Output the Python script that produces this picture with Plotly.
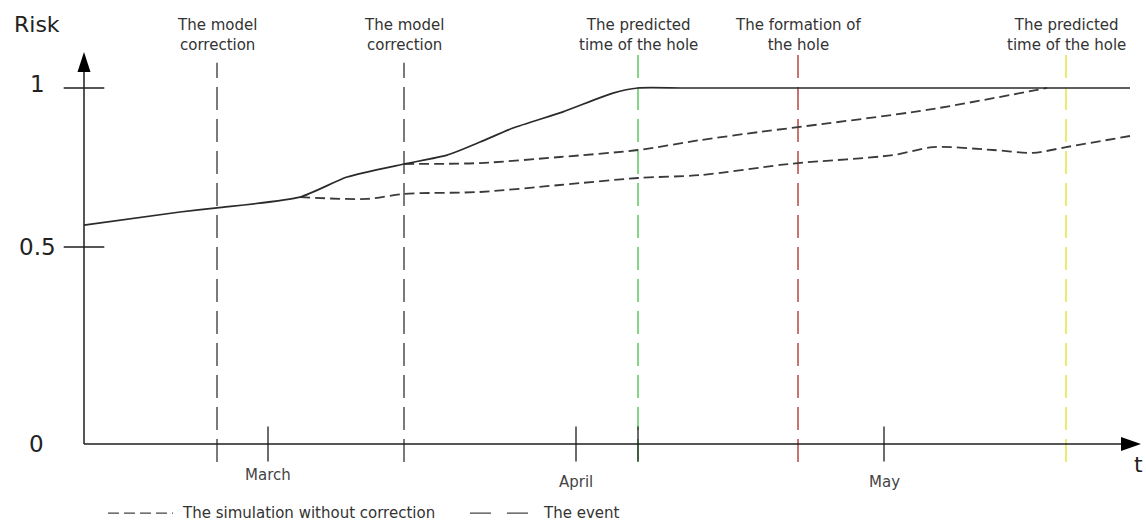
import plotly.graph_objects as go

# ---------------- data (x in days from the origin of the time axis) ----------------
solid_x = [0, 9.6, 13.3, 21.6, 26.3, 32.0, 36.3, 39.6, 42.9, 47.9, 52.9, 55.4, 60.0, 80.0, 104.6]
solid_y = [0.569, 0.610, 0.623, 0.657, 0.720, 0.761, 0.789, 0.830, 0.874, 0.925, 0.984, 1.0, 1.0, 1.0, 1.0]

sim1_x = [21.6, 28.3, 32.0, 39.6, 47.6, 55.4, 61.6, 69.6, 71.4, 80.9, 84.9, 90.9, 94.9, 98.2, 104.6]
sim1_y = [0.657, 0.651, 0.667, 0.673, 0.695, 0.717, 0.726, 0.758, 0.764, 0.789, 0.814, 0.805, 0.796, 0.814, 0.849]

sim2_x = [32.0, 39.6, 47.6, 55.4, 61.6, 67.6, 71.4, 84.3, 96.3]
sim2_y = [0.761, 0.764, 0.783, 0.805, 0.836, 0.862, 0.877, 0.931, 1.0]

event_x = [13.3, 32.0, 55.4, 71.4, 98.2]
event_labels = ["The model<br>correction", "The model<br>correction",
                "The predicted<br>time of the hole", "The formation of<br>the hole",
                "The predicted<br>time of the hole"]
event_colors = ["#5a5a5a", "#5a5a5a", "#66cc66", "#c0504d", "#e6e64a"]

month_x = [18.4, 49.2, 80.0]
month_labels = ["March", "April", "May"]
month_label_y = [0.090, 0.0766, 0.0766]

ytick_vals = [0.5, 1.0]
ytick_labels = ["0.5", "1"]

legend_labels = ["The simulation without correction", "The event"]

# ---------------- geometry of the schematic axes ----------------
X0, X_END = 0.0, 105.7          # time axis from origin to arrow tip
Y_BASE, Y_TOP = -0.1195, 1.113  # risk axis from baseline ("0") to arrow tip
XR = [-8.4, 106.2]
YR = [-0.3648, 1.2767]
PX_X = (XR[1] - XR[0]) / 1146.0
PX_Y = (YR[1] - YR[0]) / 522.0

FONT = "DejaVu Sans"
AX = "#1e1e1e"
fig = go.Figure()

# event lines
for i, (ex, col) in enumerate(zip(event_x, event_colors)):
    top = 1.079 if i < 2 else 1.104
    fig.add_trace(go.Scatter(x=[ex, ex], y=[-0.176, top], mode="lines",
                             line=dict(color=col, width=1.6, dash="23px,9px"),
                             hoverinfo="skip", showlegend=False))

# axes lines
fig.add_trace(go.Scatter(x=[X0, X0], y=[Y_BASE, Y_TOP - 10 * PX_Y], mode="lines",
                         line=dict(color=AX, width=1.5), hoverinfo="skip", showlegend=False))
fig.add_trace(go.Scatter(x=[X0, X_END - 10 * PX_X], y=[Y_BASE, Y_BASE], mode="lines",
                         line=dict(color=AX, width=1.5), hoverinfo="skip", showlegend=False))

# tick marks
fig.add_trace(go.Scatter(x=[X0] * len(ytick_vals), y=ytick_vals, mode="markers",
                         marker=dict(symbol="line-ew", size=29, line=dict(color=AX, width=1.3)),
                         hoverinfo="skip", showlegend=False))
tick_x = month_x + [event_x[2]]
fig.add_trace(go.Scatter(x=tick_x, y=[Y_BASE] * len(tick_x), mode="markers",
                         marker=dict(symbol="line-ns", size=25, line=dict(color=AX, width=1.3)),
                         hoverinfo="skip", showlegend=False))

# curves
fig.add_trace(go.Scatter(x=sim1_x, y=sim1_y, mode="lines",
                         line=dict(color="#3a3a3a", width=1.8, dash="10px,5px", shape="spline", smoothing=0.8),
                         name=legend_labels[0], showlegend=False))
fig.add_trace(go.Scatter(x=sim2_x, y=sim2_y, mode="lines",
                         line=dict(color="#3a3a3a", width=1.8, dash="10px,5px", shape="spline", smoothing=0.8),
                         name=legend_labels[0], showlegend=False))
fig.add_trace(go.Scatter(x=solid_x, y=solid_y, mode="lines",
                         line=dict(color="#2a2a2a", width=1.7, shape="spline", smoothing=0.6),
                         name="Risk", showlegend=False))

# legend samples
LEG_Y = -0.337
fig.add_trace(go.Scatter(x=[2.4, 8.9], y=[LEG_Y, LEG_Y], mode="lines",
                         line=dict(color="#444", width=1.4, dash="11px,5px"),
                         hoverinfo="skip", showlegend=False))
fig.add_trace(go.Scatter(x=[38.6, 44.5], y=[LEG_Y, LEG_Y], mode="lines",
                         line=dict(color="#444", width=1.4, dash="21px,16px"),
                         hoverinfo="skip", showlegend=False))

shapes = [
    # arrow heads
    dict(type="path", xref="x", yref="y", fillcolor="black", line=dict(width=0),
         path=f"M {X0} {Y_TOP} L {X0 - 6.5 * PX_X} {Y_TOP - 20 * PX_Y} L {X0 + 6.5 * PX_X} {Y_TOP - 20 * PX_Y} Z"),
    dict(type="path", xref="x", yref="y", fillcolor="black", line=dict(width=0),
         path=f"M {X_END} {Y_BASE} L {X_END - 20 * PX_X} {Y_BASE + 7 * PX_Y} L {X_END - 20 * PX_X} {Y_BASE - 7 * PX_Y} Z"),
]

ann = []
for ex, lab in zip(event_x, event_labels):
    ann.append(dict(x=ex, y=1.167, xref="x", yref="y", text=lab, showarrow=False,
                    yanchor="middle", font=dict(family=FONT, size=15, color="#333"), align="center"))
for mx, ml, my in zip(month_x, month_labels, month_label_y):
    ann.append(dict(x=mx, y=my, xref="x", yref="paper", text=ml, showarrow=False,
                    yanchor="middle", font=dict(family=FONT, size=15, color="#444")))
for yv, yl in zip(ytick_vals, ytick_labels):
    ann.append(dict(x=-4.7, y=yv + (0.0126 if yv == 1.0 else 0), xref="x", yref="y", text=yl,
                    yanchor="middle", showarrow=False, font=dict(family=FONT, size=23, color="#222")))
ann.append(dict(x=-4.8, y=Y_BASE, xref="x", yref="y", text="0", showarrow=False,
                yanchor="middle", font=dict(family=FONT, size=23, color="#222")))
ann.append(dict(x=-4.7, y=1.2, xref="x", yref="y", text="Risk", showarrow=False,
                yanchor="middle", font=dict(family=FONT, size=22, color="#222")))
ann.append(dict(x=105.4, y=Y_BASE - 0.065, xref="x", yref="y", text="t", showarrow=False,
                yanchor="middle", font=dict(family=FONT, size=22, color="#222")))
ann.append(dict(x=9.6, y=LEG_Y, xref="x", yref="y", text=legend_labels[0], showarrow=False,
                xanchor="left", yanchor="middle", font=dict(family=FONT, size=15, color="#333")))
ann.append(dict(x=45.7, y=LEG_Y, xref="x", yref="y", text=legend_labels[1], showarrow=False,
                xanchor="left", yanchor="middle", font=dict(family=FONT, size=15, color="#333")))

fig.update_layout(
    width=1146, height=522,
    margin=dict(l=0, r=0, t=0, b=0, pad=0),
    paper_bgcolor="white", plot_bgcolor="white",
    xaxis=dict(range=XR, visible=False, fixedrange=True),
    yaxis=dict(range=YR, visible=False, fixedrange=True),
    shapes=shapes, annotations=ann, showlegend=False,
)

fig.write_html("out.html", config={"displayModeBar": False},
               post_script="document.body.style.margin='0';document.body.style.overflow='hidden';")
